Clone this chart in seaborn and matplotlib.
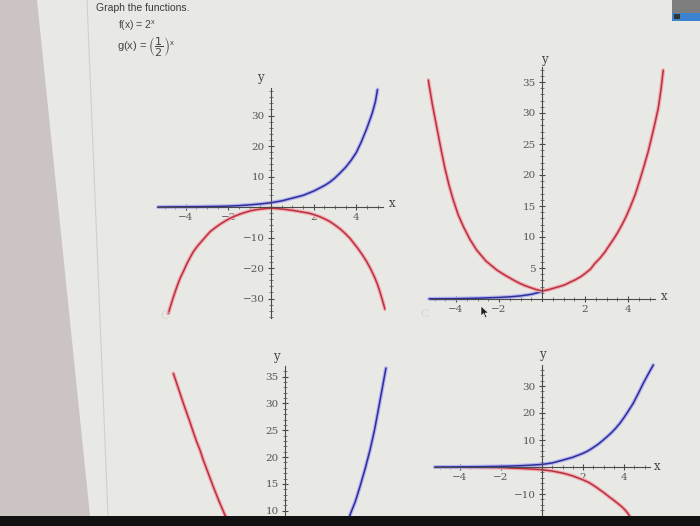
import matplotlib
matplotlib.use("Agg")
import numpy as np
import matplotlib.pyplot as plt
import matplotlib.patheffects as pe
from matplotlib.patches import Polygon, Rectangle
from matplotlib.ticker import FixedLocator
import seaborn as sns

W, H = 700, 526

# readings of the four graphs (top-left, top-right, bottom-left, bottom-right)
tl_blue_x = [-5.3, -4.5, -3.5, -2.5, -2.0, -1.5, -1.0, -0.5, 0.0, 0.5, 1.0, 1.5, 2.0, 2.5, 2.75,
             3.0, 3.25, 3.5, 3.75, 4.0, 4.25, 4.5, 4.75, 4.9, 5.0]
tl_blue_y = [0.0, 0.05, 0.1, 0.2, 0.28, 0.45, 0.7, 1.0, 1.4, 2.0, 2.9, 3.8, 5.2, 7.0, 8.1,
             9.5, 11.2, 13.0, 15.2, 17.8, 21.5, 25.8, 30.7, 34.5, 38.5]
tl_red_x = [-4.82, -4.7, -4.55, -4.4, -4.27, -4.1, -3.95, -3.8, -3.65, -3.45, -3.25, -3.05, -2.86,
            -2.6, -2.4, -2.15, -1.92, -1.7, -1.45, -1.2, -0.99, -0.75, -0.5, -0.25, -0.05, 0.2,
            0.45, 0.7, 0.89, 1.1, 1.35, 1.6, 1.83, 2.05, 2.3, 2.55, 2.77, 3.0, 3.25, 3.5, 3.71,
            3.9, 4.1, 4.3, 4.49, 4.67, 4.85, 5.0, 5.1, 5.22, 5.35]
tl_red_y = [-34.9, -32.1, -28.8, -25.8, -23.4, -20.9, -18.6, -16.6, -14.7, -12.8, -11.2, -9.6, -8.1,
            -6.7, -5.7, -4.6, -3.7, -3.0, -2.3, -1.75, -1.3, -0.95, -0.7, -0.5, -0.4, -0.45,
            -0.6, -0.8, -1.0, -1.2, -1.5, -1.8, -2.1, -2.6, -3.2, -4.0, -4.8, -5.9, -7.2, -8.8, -10.3,
            -12.0, -13.8, -15.8, -17.9, -20.2, -22.8, -25.4, -27.5, -30.3, -33.5]

tr_blue_x = [-5.25, -4.0, -3.0, -2.0, -1.5, -1.0, -0.5, 0.0]
tr_blue_y = [0.03, 0.06, 0.13, 0.25, 0.35, 0.5, 0.75, 1.2]
tr_red_x = [-5.29, -5.1, -4.9, -4.7, -4.51, -4.32, -4.13, -3.9, -3.66, -3.35, -3.04, -2.6, -2.11,
            -1.8, -1.55, -1.3, -1.02, -0.75, -0.5, -0.25, 0.0, 0.25, 0.5, 0.8, 1.07, 1.3, 1.55,
            1.8, 2.0, 2.25, 2.45, 2.7, 2.93, 3.1, 3.3, 3.5, 3.71, 3.9, 4.1, 4.33, 4.55, 4.75,
            4.94, 5.1, 5.25, 5.41, 5.53, 5.64]
tr_red_y = [35.3, 31.4, 27.8, 24.2, 21.0, 18.3, 16.0, 13.6, 11.7, 9.6, 7.9, 6.1, 4.7,
            4.0, 3.5, 3.0, 2.5, 2.1, 1.8, 1.5, 1.3, 1.45, 1.7, 2.0, 2.3, 2.7, 3.1,
            3.6, 4.1, 4.8, 5.7, 6.6, 7.6, 8.5, 9.5, 10.6, 11.9, 13.2, 14.8, 16.8, 19.2, 21.5,
            23.8, 26.1, 28.3, 30.8, 33.7, 36.9]

bl_red_x = [-5.24, -5.08, -4.92, -4.77, -4.61, -4.45, -4.3, -4.15, -3.99, -3.84, -3.68, -3.52,
            -3.37, -3.23, -3.1, -2.96, -2.82, -2.65]
bl_red_y = [35.6, 33.7, 31.8, 30.0, 28.2, 26.4, 24.6, 22.9, 21.3, 19.5, 17.8, 16.1,
            14.5, 13.1, 11.8, 10.5, 9.2, 8.0]
bl_blue_x = [2.97, 3.05, 3.3, 3.52, 3.76, 3.99, 4.2, 4.38, 4.56, 4.74]
bl_blue_y = [8.0, 9.2, 11.7, 14.5, 17.8, 21.3, 25.0, 28.8, 32.7, 36.6]

br_blue_x = [-5.22, -4.0, -3.0, -2.0, -1.5, -1.0, -0.5, 0.0, 0.5, 1.04, 1.5, 2.01, 2.25, 2.5,
             2.75, 2.99, 3.2, 3.4, 3.6, 3.8, 4.0, 4.2, 4.45, 4.7, 4.94, 5.18, 5.43]
br_blue_y = [0.0, 0.05, 0.12, 0.25, 0.35, 0.5, 0.7, 0.95, 1.5, 2.6, 3.6, 5.1, 6.0, 7.2,
             8.5, 10.0, 11.4, 12.8, 14.4, 16.2, 18.3, 20.6, 23.6, 27.3, 31.0, 34.4, 37.8]
br_red_x = [-5.22, -3.5, -2.0, -1.0, -0.5, 0.0, 0.5, 1.04, 1.5, 2.01, 2.25, 2.45, 2.65, 2.83,
            3.0, 3.15, 3.32, 3.48, 3.63, 3.78, 3.92, 4.05, 4.18, 4.3]
br_red_y = [0.0, -0.1, -0.25, -0.55, -0.75, -1.0, -1.5, -2.3, -3.3, -4.8, -5.6, -6.5, -7.5, -8.5,
            -9.4, -10.3, -11.3, -12.2, -13.1, -14.0, -14.9, -15.9, -17.1, -18.5]

x_ticks = [-4, -2, 2, 4]

sns.set_style("white")
plt.rcParams["font.family"] = ["DejaVu Serif"]

BLUE, BLUE_HALO = "#2e2e96", "#b4b4f2"
RED, RED_HALO = "#b5333f", "#f4aab2"
AXIS = "#4a4a4a"

fig = plt.figure(figsize=(7, 5.26), dpi=100)
fig.patch.set_facecolor("#e8e8e5")


def px(x, y):
    return x / W, 1 - y / H


def make_axes(x0, xu, y0, yu, xlim, ylim):
    left, right = x0 + xlim[0] * xu, x0 + xlim[1] * xu
    top, bottom = y0 - ylim[1] * yu, y0 - ylim[0] * yu
    ax = fig.add_axes([left / W, 1 - bottom / H, (right - left) / W, (bottom - top) / H])
    ax.set_xlim(xlim)
    ax.set_ylim(ylim)
    ax.set_facecolor("none")
    for s in ["top", "right"]:
        ax.spines[s].set_visible(False)
    for s in ["left", "bottom"]:
        ax.spines[s].set_position(("data", 0))
        ax.spines[s].set_color(AXIS)
        ax.spines[s].set_linewidth(0.8)
    ax.tick_params(which="both", bottom=True, left=True, top=False, right=False)
    ax.tick_params(which="major", direction="inout", length=5, width=0.8, color=AXIS,
                   labelsize=7.5, labelcolor="#555555", pad=2)
    ax.tick_params(which="minor", direction="inout", length=3, width=0.6, color="#666666")
    ax.grid(False)
    return ax


def minor_ticks(ax, xb, xstep, yb, ystep):
    # small ticks only along the drawn part of each axis line
    if xb is not None:
        ax.spines["bottom"].set_bounds(*xb)
        xs = np.arange(np.ceil(xb[0] / xstep) * xstep, xb[1], xstep)
        ax.xaxis.set_minor_locator(FixedLocator([v for v in xs if abs(v) > 1e-9]))
    ax.spines["left"].set_bounds(*yb)
    ys = np.arange(np.ceil(yb[0] / ystep) * ystep, yb[1], ystep)
    ax.yaxis.set_minor_locator(FixedLocator([v for v in ys if abs(v) > 1e-9]))


def curve(ax, xs, ys, color, halo):
    sns.lineplot(x=xs, y=ys, ax=ax, color=color, linewidth=1.1, sort=False, estimator=None,
                 path_effects=[pe.Stroke(linewidth=2.8, foreground=halo), pe.Normal()])


def axis_names(ax, xpos, ypos):
    if xpos is not None:
        ax.text(*xpos, "x", fontsize=8.5, color="#444", ha="center", va="center")
    ax.text(*ypos, "y", fontsize=8.5, color="#444", ha="center", va="center")


# top-left
ax1 = make_axes(271, 21.3, 207, 3.05, (-5.4, 5.4), (-36.5, 39.2))
ax1.set_xticks(x_ticks)
ax1.set_yticks([-30, -20, -10, 10, 20, 30])
minor_ticks(ax1, (-5.35, 5.25), 0.5, (-36.4, 39.0), 2)
curve(ax1, tl_red_x, tl_red_y, RED, RED_HALO)
curve(ax1, tl_blue_x, tl_blue_y, BLUE, BLUE_HALO)
axis_names(ax1, (5.68, 1.3), (-0.52, 42.6))

# top-right
ax2 = make_axes(542, 21.5, 299, 6.2, (-5.35, 5.7), (-2.0, 37.6))
ax2.set_xticks(x_ticks)
ax2.set_yticks([5, 10, 15, 20, 25, 30, 35])
minor_ticks(ax2, (-5.2, 5.25), 0.5, (-0.4, 37.4), 1)
curve(ax2, tr_blue_x, tr_blue_y, BLUE, BLUE_HALO)
curve(ax2, tr_red_x, tr_red_y, RED, RED_HALO)
axis_names(ax2, (5.67, 0.4), (0.1, 38.6))

# bottom-left (cut off by the screen edge)
ax3 = make_axes(285, 21.3, 564.3, 5.36, (-6.0, 4.95), (8.9, 39.5))
ax3.spines["bottom"].set_visible(False)
ax3.set_xticks([])
ax3.set_yticks([10, 15, 20, 25, 30, 35])
minor_ticks(ax3, None, None, (8.9, 37.0), 1)
curve(ax3, bl_red_x, bl_red_y, RED, RED_HALO)
curve(ax3, bl_blue_x, bl_blue_y, BLUE, BLUE_HALO)
axis_names(ax3, None, (-0.4, 38.8))

# bottom-right
ax4 = make_axes(542, 20.5, 467, 2.7, (-5.35, 5.6), (-18.1, 39.0))
ax4.set_xticks(x_ticks)
ax4.set_yticks([-10, 10, 20, 30])
minor_ticks(ax4, (-5.25, 5.27), 0.5, (-18.1, 37.8), 2)
curve(ax4, br_red_x, br_red_y, RED, RED_HALO)
curve(ax4, br_blue_x, br_blue_y, BLUE, BLUE_HALO)
axis_names(ax4, (5.6, 0.0), (0.0, 41.5))

# question text
fig.text(*px(96, 8), "Graph the functions.", family=["Liberation Sans"], fontsize=7.5,
         color="#3a3a3a", va="center")
fig.text(*px(118, 26), r"f(x) = 2$^{\mathregular{x}}$", family=["Liberation Sans"],
         fontsize=7.5, color="#444", va="center")
fig.text(*px(117, 47), r"g(x) = $\left(\dfrac{1}{2}\right)^{\mathregular{x}}$",
         family=["Liberation Sans"], fontsize=8, color="#444", va="center")

# surroundings of the photographed screen
fig.patches.append(Polygon([px(0, 0), px(37, 0), px(90, 516), px(0, 516)], closed=True,
                           transform=fig.transFigure, facecolor="#cbc4c2", edgecolor="none", zorder=0))
fig.add_artist(plt.Line2D([87 / W, 108 / W], [1, 1 - 516 / H], color="#cfcfcc", lw=0.8))
fig.patches.append(Rectangle(px(0, 526), 1, 10 / H, transform=fig.transFigure,
                             facecolor="#111111", edgecolor="none", zorder=5))
fig.patches.append(Rectangle(px(672, 13), 28 / W, 13 / H, transform=fig.transFigure,
                             facecolor="#7e7e7e", edgecolor="none", zorder=5))
fig.patches.append(Rectangle(px(672, 21), 28 / W, 8 / H, transform=fig.transFigure,
                             facecolor="#3b82d0", edgecolor="none", zorder=5))
fig.patches.append(Rectangle(px(674, 19), 6 / W, 5 / H, transform=fig.transFigure,
                             facecolor="#333333", edgecolor="none", zorder=6))
fig.patches.append(Polygon([px(481, 306), px(481, 316), px(483.5, 313.5), px(485.5, 318),
                            px(487, 317.4), px(485, 313), px(488.5, 313)], closed=True,
                           transform=fig.transFigure, facecolor="#222222", edgecolor="white",
                           lw=0.4, zorder=5))
fig.text(*px(165, 316), "C", fontsize=8, color="#d2d2d0", ha="center", va="center")
fig.text(*px(425, 314), "C", fontsize=8, color="#d2d2d0", ha="center", va="center")

fig.savefig("out.png", dpi=100, facecolor=fig.get_facecolor())
